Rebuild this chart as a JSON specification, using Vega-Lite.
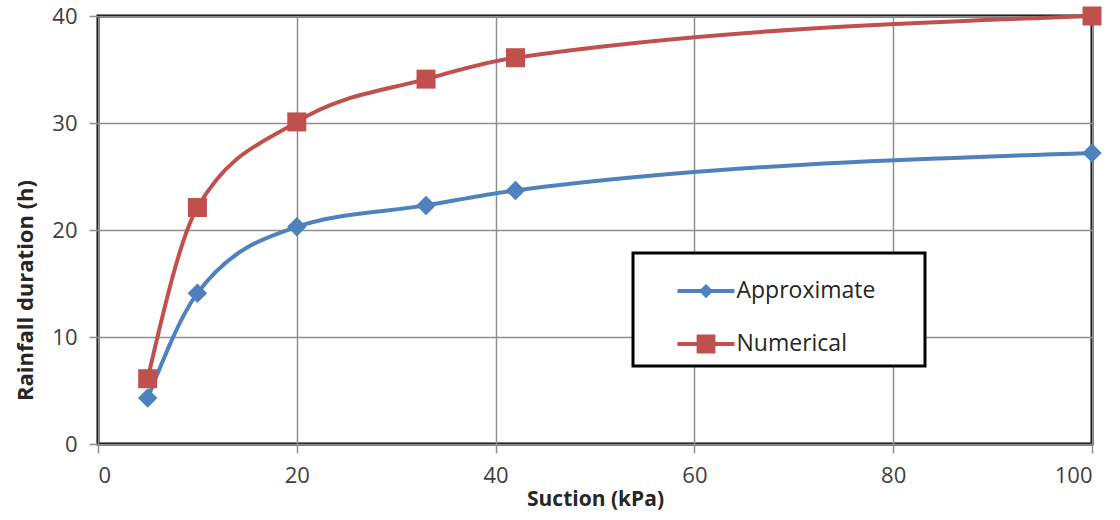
{
  "$schema": "https://vega.github.io/schema/vega-lite/v6.json",
  "autosize": "none",
  "width": 994,
  "height": 428,
  "padding": {"left": 98, "top": 16, "right": 28, "bottom": 76},
  "background": "white",
  "config": {
    "view": {"stroke": "black", "strokeWidth": 3},
    "font": "Open Sans",
    "axis": {
      "domain": false,
      "grid": true,
      "gridColor": "#8f8f8f",
      "gridWidth": 1.5,
      "tickColor": "#8f8f8f",
      "tickWidth": 1.5,
      "tickSize": 9,
      "labelFont": "Open Sans",
      "labelFontSize": 22,
      "labelColor": "#404040",
      "titleFont": "Open Sans",
      "titleFontSize": 21,
      "titleFontWeight": "bold",
      "titleColor": "#262626"
    }
  },
  "data": {
    "values": [
      {"suction": 5, "duration": 4.3, "series": "Approximate"},
      {"suction": 10, "duration": 14.1, "series": "Approximate"},
      {"suction": 20, "duration": 20.3, "series": "Approximate"},
      {"suction": 33, "duration": 22.3, "series": "Approximate"},
      {"suction": 42, "duration": 23.7, "series": "Approximate"},
      {"suction": 100, "duration": 27.2, "series": "Approximate"},
      {"suction": 5, "duration": 6.1, "series": "Numerical"},
      {"suction": 10, "duration": 22.1, "series": "Numerical"},
      {"suction": 20, "duration": 30.1, "series": "Numerical"},
      {"suction": 33, "duration": 34.1, "series": "Numerical"},
      {"suction": 42, "duration": 36.1, "series": "Numerical"},
      {"suction": 100, "duration": 40.0, "series": "Numerical"}
    ]
  },
  "encoding": {
    "x": {
      "field": "suction", "type": "quantitative",
      "scale": {"domain": [0, 100], "nice": false},
      "axis": {"values": [0, 20, 40, 60, 80, 100], "title": "Suction (kPa)", "labelPadding": 12, "titlePadding": 2}
    },
    "y": {
      "field": "duration", "type": "quantitative",
      "scale": {"domain": [0, 40], "nice": false},
      "axis": {"values": [0, 10, 20, 30, 40], "title": "Rainfall duration (h)", "labelPadding": 12, "titleFontSize": 22,
               "titleX": -73, "titleY": 274, "titleAngle": 270, "titleAlign": "center", "titleBaseline": "middle"}
    },
    "color": {
      "field": "series", "type": "nominal",
      "scale": {"domain": ["Approximate", "Numerical"], "range": ["#4F81BD", "#C0504D"]},
      "legend": {
        "title": ".",
        "titleOrient": "right",
        "titleOpacity": 0,
        "titleFontSize": 6,
        "titlePadding": 38,
        "orient": "none",
        "legendX": 535,
        "legendY": 237,
        "fillColor": "white",
        "strokeColor": "black",
        "padding": 9.5,
        "symbolOffset": 35,
        "symbolSize": 3249,
        "labelOffset": 2,
        "labelFont": "Open Sans",
        "labelFontSize": 23,
        "labelColor": "#262626",
        "rowPadding": 12,
        "encode": {
          "legend": {"update": {"strokeWidth": {"value": 3}}},
          "symbols": {
            "update": {
              "shape": {"signal": "datum.value === 'Approximate' ? 'M-1,-0.07H1V0.07H-1Z M-0.25,0L0,-0.25L0.25,0L0,0.25Z' : 'M-1,-0.07H1V0.07H-1Z M-0.33,-0.33H0.33V0.33H-0.33Z'"},
              "size": {"value": 3249},
              "fill": {"signal": "datum.value === 'Approximate' ? '#4F81BD' : '#C0504D'"},
              "stroke": {"value": "transparent"},
              "strokeWidth": {"value": 0},
              "opacity": {"value": 1}
            }
          }
        }
      }
    }
  },
  "layer": [
    {
      "mark": {"type": "line", "interpolate": "monotone", "strokeWidth": 4}
    },
    {
      "transform": [{"filter": "datum.series === 'Approximate'"}],
      "mark": {"type": "point", "filled": true, "opacity": 1, "size": 380, "shape": "diamond"}
    },
    {
      "transform": [{"filter": "datum.series === 'Numerical'"}],
      "mark": {"type": "point", "filled": true, "opacity": 1, "size": 361, "shape": "square"}
    }
  ]
}
